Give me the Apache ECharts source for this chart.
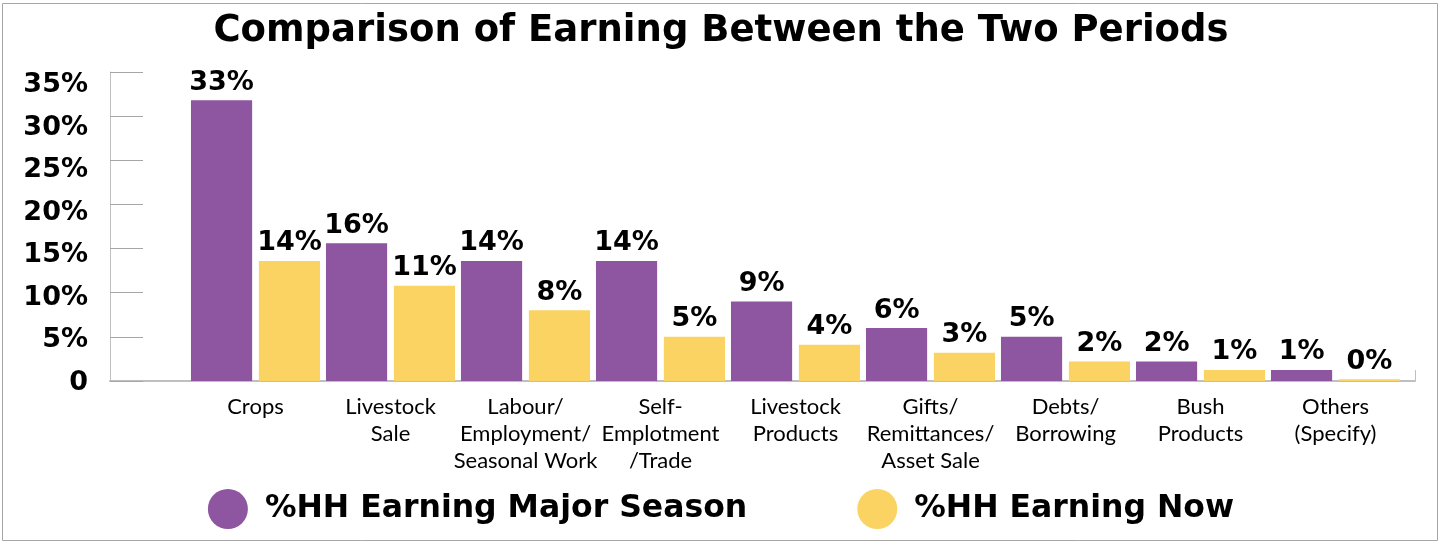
<!DOCTYPE html>
<html>
<head>
<meta charset="utf-8">
<script src="https://cdn.jsdelivr.net/npm/echarts@6/dist/echarts.min.js"></script>
<style>
html,body{margin:0;padding:0;background:#fff;}
#chart{width:1442px;height:542px;}
</style>
</head>
<body>
<div id="chart"></div>
<script>
const categories = ['Crops', 'Livestock\nSale', 'Labour/\nEmployment/\nSeasonal Work', 'Self-\nEmplotment\n/Trade', 'Livestock\nProducts', 'Gifts/\nRemittances/\nAsset Sale', 'Debts/\nBorrowing', 'Bush\nProducts', 'Others\n(Specify)'];
const seriesNames = ['%HH Earning Major Season', '%HH Earning Now'];
const majorSeason = [31.8, 15.6, 13.6, 13.6, 9.0, 6.0, 5.0, 2.2, 1.25];
const earningNow = [13.6, 10.8, 8.0, 5.0, 4.1, 3.2, 2.2, 1.25, 0.2];
const majorLabels = ['33%', '16%', '14%', '14%', '9%', '6%', '5%', '2%', '1%'];
const nowLabels = ['14%', '11%', '8%', '5%', '4%', '3%', '2%', '1%', '0%'];
const yTickLabels = ['0', '5%', '10%', '15%', '20%', '25%', '30%', '35%'];

const chart = echarts.init(document.getElementById('chart'), null, {renderer: 'canvas'});
const boldFont = 'DejaVu Sans';
const labelStyle = (labels) => ({
  show: true, position: 'top', distance: 4,
  formatter: p => labels[p.dataIndex],
  fontFamily: boldFont, fontWeight: 'bold', fontSize: 27, color: '#000'
});
chart.setOption({
  animation: false,
  backgroundColor: '#fff',
  graphic: [{
    type: 'rect', silent: true, z: -1,
    shape: {x: 2.5, y: 3.5, width: 1435, height: 537},
    style: {fill: 'none', stroke: '#a6a6a6', lineWidth: 1}
  }],
  title: {
    text: 'Comparison of Earning Between the Two Periods',
    left: 'center', top: 8,
    textStyle: {fontFamily: boldFont, fontWeight: 'bold', fontSize: 37, color: '#000'}
  },
  legend: {
    data: seriesNames,
    bottom: 8, left: 'center',
    icon: 'circle', itemWidth: 40, itemHeight: 40, itemGap: 110,
    textStyle: {fontFamily: boldFont, fontWeight: 'bold', fontSize: 31.5, color: '#000', padding: [0, 0, 0, 12]}
  },
  grid: [
    {left: 110, right: 27, top: 72, bottom: 161},
    {left: 188, right: 39, top: 72, bottom: 161},
    {left: 110, right: 27, top: 85, bottom: 159}
  ],
  xAxis: [
    {gridIndex: 0, type: 'category', data: ['', ''], boundaryGap: false,
     axisLine: {show: true, lineStyle: {color: '#bfbfbf', width: 2}},
     axisTick: {show: true, inside: true, length: 11, lineStyle: {color: '#bfbfbf'}}, axisLabel: {show: false}},
    {gridIndex: 1, type: 'category', data: categories,
     axisLine: {show: false}, axisTick: {show: false},
     axisLabel: {interval: 0, margin: 12, fontFamily: 'Lato', fontSize: 22, lineHeight: 27, color: '#000'}},
    {gridIndex: 2, type: 'category', data: [''], show: false}
  ],
  yAxis: [
    {gridIndex: 0, type: 'value', min: 0, max: 35, interval: 5,
     axisLine: {show: true, lineStyle: {color: '#bfbfbf', width: 1}},
     axisTick: {show: true, inside: true, length: 33, lineStyle: {color: '#a6a6a6'}},
     splitLine: {show: false}, axisLabel: {show: false}},
    {gridIndex: 1, type: 'value', min: 0, max: 35, interval: 5, show: false},
    {gridIndex: 2, type: 'value', min: 0, max: 35, interval: 5,
     axisLine: {show: false}, axisTick: {show: false}, splitLine: {show: false},
     axisLabel: {margin: 22, fontFamily: boldFont, fontWeight: 'bold', fontSize: 27, color: '#000',
       formatter: (v) => yTickLabels[Math.round(v / 5)]}}
  ],
  series: [
    {name: seriesNames[0], type: 'bar', xAxisIndex: 1, yAxisIndex: 1, data: majorSeason,
     itemStyle: {color: '#8e55a0'}, barGap: '11%', barCategoryGap: '4.4%', label: labelStyle(majorLabels)},
    {name: seriesNames[1], type: 'bar', xAxisIndex: 1, yAxisIndex: 1, data: earningNow,
     itemStyle: {color: '#fad362'}, barGap: '11%', barCategoryGap: '4.4%', label: labelStyle(nowLabels)}
  ]
});
</script>
</body>
</html>
